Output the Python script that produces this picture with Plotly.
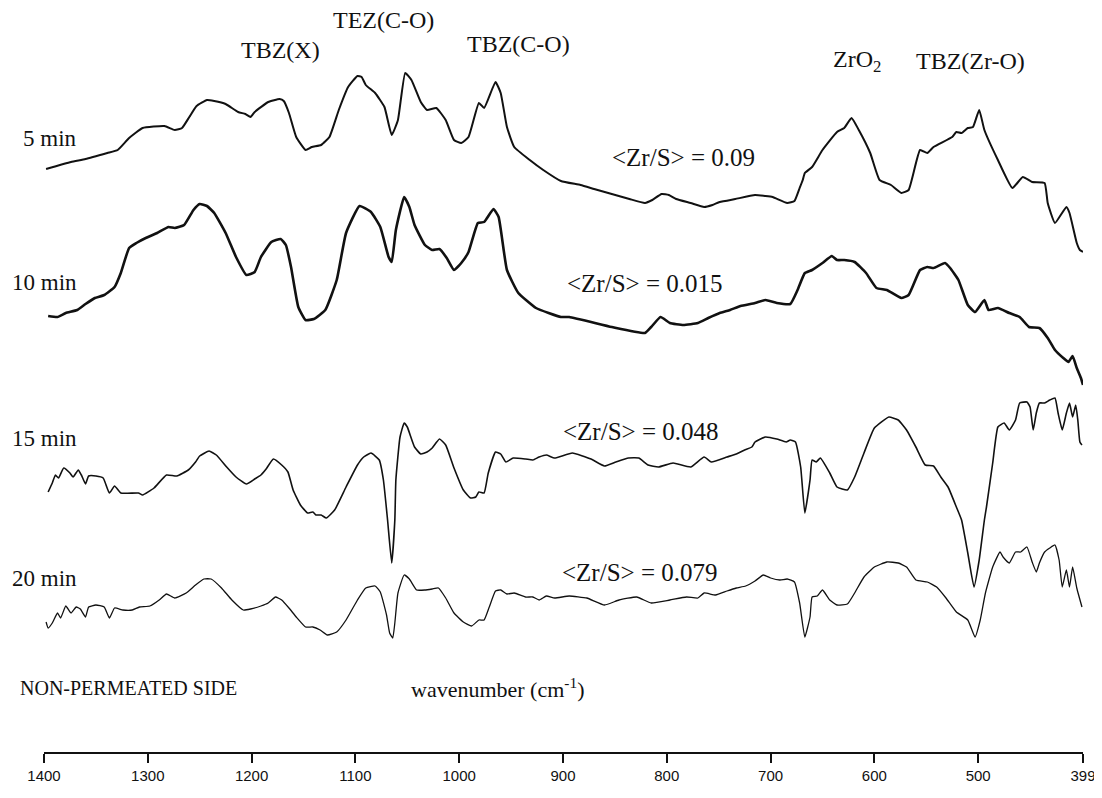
import plotly.graph_objects as go

# ---- data (wavenumber in cm-1, intensity in arbitrary units, traces offset) ----
wn_5 = [1398, 1374, 1360, 1339, 1329, 1318, 1305, 1284, 1274, 1267, 1260, 1253, 1243, 1236, 1225, 1213, 1206,
        1201, 1197, 1184, 1173, 1169, 1164, 1157, 1148, 1142, 1133, 1125, 1116, 1107, 1098, 1094, 1090, 1081,
        1072, 1065, 1059, 1052, 1046, 1037, 1031, 1022, 1013, 1005, 998, 991, 981, 976, 965, 960, 954, 947,
        932, 919, 902, 883, 870, 853, 836, 821, 814, 805, 798, 791, 777, 764, 756, 749, 734, 715, 705, 698,
        684, 677, 672, 669, 667, 660, 650, 636, 629, 622, 615, 604, 595, 584, 574, 567, 556, 549, 543, 525,
        521, 516, 510, 505, 499, 494, 481, 467, 457, 448, 436, 433, 426, 415, 412, 405, 402, 399]
val_5 = [582, 589, 592, 598, 601, 613, 623, 625, 621, 623, 634, 645, 651, 650, 647, 639, 637,
         634, 639, 649, 652, 650, 638, 614, 601, 604, 606, 614, 641, 664, 675, 674, 666, 658,
         644, 616, 631, 678, 671, 649, 641, 643, 631, 611, 608, 614, 648, 643, 669, 658, 624, 604,
         591, 581, 570, 566, 562, 557, 552, 548, 551, 557, 556, 552, 548, 544, 546, 549, 552, 556, 555, 554,
         548, 550, 563, 571, 578, 584, 601, 619, 623, 633, 621, 598, 571, 566, 558, 561, 601, 598, 604, 614,
         619, 618, 623, 624, 641, 621, 591, 563, 574, 569, 568, 548, 528, 544, 538, 508, 501, 499]

wn_10 = [1396, 1387, 1379, 1368, 1360, 1351, 1342, 1332, 1326, 1318, 1311, 1302, 1291, 1280, 1274, 1265, 1256,
         1250, 1243, 1236, 1225, 1215, 1205, 1197, 1191, 1181, 1172, 1167, 1162, 1155, 1148, 1140, 1129, 1118,
         1109, 1096, 1085, 1076, 1068, 1065, 1061, 1053, 1048, 1043, 1033, 1026, 1019, 1012, 1005, 998, 991,
         982, 976, 967, 962, 954, 943, 926, 902, 894, 853, 821, 815, 806, 797, 784, 770, 760, 749, 739, 729,
         715, 705, 694, 681, 674, 667, 660, 650, 641, 636, 629, 619, 608, 598, 588, 574, 567, 556, 549, 543,
         532, 527, 519, 510, 503, 494, 490, 481, 470, 460, 451, 441, 433, 426, 418, 413, 409, 405, 401, 399]
val_10 = [435, 434, 438, 441, 447, 453, 456, 464, 478, 503, 508, 513, 518, 524, 523, 526, 541,
          547, 545, 538, 518, 494, 476, 479, 494, 509, 512, 506, 484, 444, 431, 432, 441, 471,
          518, 545, 539, 524, 494, 489, 521, 554, 544, 526, 506, 501, 502, 493, 481, 488, 499,
          528, 529, 542, 534, 481, 458, 443, 434, 434, 424, 418, 424, 434, 428, 426, 428, 433, 438, 441, 445,
          448, 451, 448, 447, 461, 478, 481, 488, 495, 491, 491, 489, 478, 463, 461, 453, 456, 481, 484, 483,
          488, 483, 471, 446, 439, 451, 441, 443, 438, 434, 424, 423, 413, 401, 393, 389, 395, 383, 373, 366]

wn_15 = [1396, 1392, 1389, 1386, 1381, 1375, 1372, 1367, 1364, 1360, 1357, 1350, 1343, 1337, 1332, 1326, 1309,
         1305, 1294, 1282, 1272, 1261, 1254, 1250, 1241, 1234, 1224, 1215, 1205, 1197, 1191, 1186, 1179, 1171,
         1165, 1160, 1153, 1146, 1141, 1138, 1133, 1128, 1120, 1109, 1098, 1092, 1085, 1077, 1073, 1069, 1065,
         1062, 1061, 1057, 1053, 1050, 1043, 1037, 1031, 1026, 1019, 1013, 1005, 996, 989, 984, 981, 976, 972,
         965, 960, 955, 948, 936, 929, 923, 916, 908, 891, 873, 860, 849, 837, 827, 818, 808, 794, 777, 764,
         757, 742, 733, 725, 718, 715, 705, 694, 685, 681, 676, 671, 667, 662, 660, 656, 652, 643, 636, 626,
         619, 610, 600, 586, 577, 569, 560, 551, 543, 536, 529, 521, 516, 510, 504, 499, 494, 492, 486, 481,
         475, 470, 464, 460, 453, 450, 447, 444, 441, 436, 431, 426, 423, 419, 415, 412, 409, 406, 404, 402, 400]
val_15 = [259, 268, 276, 273, 283, 278, 274, 281, 276, 267, 275, 275, 273, 258, 265, 258, 258,
          256, 263, 276, 275, 281, 289, 295, 300, 296, 284, 274, 267, 272, 276, 282, 292, 286,
          279, 261, 246, 238, 239, 236, 236, 233, 241, 264, 286, 294, 298, 291, 271, 231, 188,
          231, 271, 314, 328, 324, 304, 297, 299, 303, 312, 306, 283, 261, 253, 254, 259, 258, 278,
          299, 297, 289, 293, 292, 291, 294, 296, 293, 298, 292, 285, 289, 293, 293, 286, 284, 288, 284, 294,
          289, 294, 297, 301, 304, 309, 314, 312, 309, 311, 309, 284, 238, 271, 291, 289, 293, 278, 264, 261,
          274, 298, 323, 334, 331, 321, 304, 286, 285, 274, 264, 244, 231, 198, 164, 191, 231, 244, 288, 324,
          328, 321, 331, 348, 349, 344, 321, 338, 348, 348, 351, 353, 338, 321, 338, 348, 334, 346, 331, 309, 306]

wn_20 = [1398, 1396, 1392, 1387, 1384, 1379, 1374, 1369, 1365, 1360, 1357, 1350, 1342, 1337, 1332, 1324, 1315,
         1308, 1298, 1289, 1282, 1274, 1263, 1254, 1246, 1239, 1229, 1219, 1208, 1201, 1191, 1184, 1177, 1171,
         1164, 1157, 1148, 1141, 1134, 1127, 1118, 1109, 1098, 1090, 1081, 1076, 1070, 1067, 1064, 1062, 1059,
         1053, 1048, 1041, 1033, 1026, 1020, 1013, 1005, 996, 988, 981, 976, 971, 965, 960, 954, 947, 936,
         929, 923, 916, 908, 894, 877, 860, 846, 829, 815, 797, 781, 770, 764, 753, 742, 733, 724, 715, 707,
         700, 691, 684, 677, 672, 667, 662, 660, 655, 650, 643, 636, 626, 619, 610, 600, 588, 577, 569, 560,
         549, 540, 531, 521, 510, 503, 498, 493, 486, 479, 476, 470, 464, 459, 453, 448, 444, 441, 436, 431,
         426, 422, 419, 415, 412, 409, 405, 400]
val_20 = [129, 123, 128, 138, 133, 145, 138, 144, 142, 134, 144, 146, 144, 133, 143, 141, 141,
          144, 145, 151, 157, 153, 158, 166, 172, 172, 163, 151, 141, 142, 145, 148, 154, 151,
          143, 134, 124, 124, 121, 116, 119, 131, 151, 163, 165, 159, 136, 118, 113, 128, 158,
          176, 172, 161, 161, 162, 163, 153, 138, 129, 125, 131, 131, 144, 160, 161, 157, 158, 154,
          154, 151, 155, 153, 155, 153, 146, 151, 154, 148, 151, 154, 153, 158, 156, 160, 163, 165, 170, 176,
          173, 171, 172, 169, 148, 114, 134, 154, 155, 161, 151, 146, 147, 158, 174, 184, 189, 188, 184, 171,
          169, 164, 153, 139, 131, 114, 131, 158, 184, 199, 194, 188, 199, 199, 204, 189, 179, 188, 199, 203,
          206, 191, 164, 181, 164, 184, 163, 144]

series = [
    ("5 min", wn_5, val_5, 2.0),
    ("10 min", wn_10, val_10, 2.6),
    ("15 min", wn_15, val_15, 1.6),
    ("20 min", wn_20, val_20, 1.3),
]

tick_vals = [1400, 1300, 1200, 1100, 1000, 900, 800, 700, 600, 500, 399]
tick_text = [str(v) for v in tick_vals]

ratio_labels = ["<Zr/S> = 0.09", "<Zr/S> = 0.015", "<Zr/S> = 0.048", "<Zr/S> = 0.079"]

fig = go.Figure()
for name, wn, val, w in series:
    fig.add_trace(go.Scatter(x=wn, y=val, mode="lines", name=name,
                             line=dict(color="#111111", width=w, shape="spline", smoothing=0.4),
                             showlegend=False, hoverinfo="skip"))

serif = "Liberation Serif, Times New Roman, serif"
ann = []
# band labels (data coordinates)
for txt, xw, yv in [("TBZ(X)", 1172, 701), ("TEZ(C-O)", 1073, 731), ("TBZ(C-O)", 943, 707),
                    ("ZrO<sub>2</sub>", 617, 690), ("TBZ(Zr-O)", 507, 690)]:
    ann.append(dict(x=xw, y=yv, xref="x", yref="y", text=txt, showarrow=False,
                    font=dict(family=serif, size=24, color="#111")))
# ratio labels
for txt, xw, yv in zip(ratio_labels, [855, 898, 902, 903], [594, 468, 320, 179]):
    ann.append(dict(x=xw, y=yv, xref="x", yref="y", xanchor="left",
                    text=txt.replace("<", "&lt;").replace(">", "&gt;"),
                    showarrow=False, font=dict(family=serif, size=25, color="#111")))
# time labels at the left (right-aligned just left of the plot area)
for (name, _, _, _), yv in zip(series, [613, 469, 313, 173]):
    ann.append(dict(x=0, y=yv, xref="paper", yref="y", xshift=35, xanchor="right",
                    text=name, showarrow=False, font=dict(family=serif, size=23, color="#111")))
ann.append(dict(x=0, y=63, xref="paper", yref="y", xshift=-26, xanchor="left",
                text="NON-PERMEATED SIDE", showarrow=False, font=dict(family=serif, size=20, color="#111")))
ann.append(dict(x=963, y=63, xref="x", yref="y", text="wavenumber (cm<sup>-1</sup>)", showarrow=False,
                font=dict(family=serif, size=22, color="#111")))

fig.update_layout(
    width=1094, height=782,
    margin=dict(l=36, r=19, t=0, b=38),
    paper_bgcolor="white", plot_bgcolor="white",
    annotations=ann,
    xaxis=dict(range=[1400, 399], tickvals=tick_vals, ticktext=tick_text,
               showline=True, linecolor="#111", linewidth=2, mirror=False,
               ticks="outside", ticklen=9, tickwidth=1.5, tickcolor="#111",
               showgrid=False, zeroline=False,
               tickfont=dict(family="Liberation Sans, Arial, sans-serif", size=15, color="#111")),
    yaxis=dict(range=[-1, 743], visible=False, showgrid=False, zeroline=False),
)

fig.write_html("out.html")
